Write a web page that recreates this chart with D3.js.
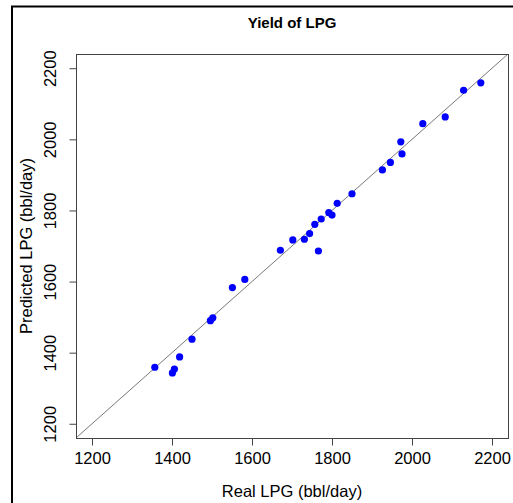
<!DOCTYPE html>
<html>
<head>
<meta charset="utf-8">
<script src="https://cdn.jsdelivr.net/npm/d3@7"></script>
<style>
  body { margin: 0; background: #fff; }
  text { font-family: "Liberation Sans", Arial, sans-serif; fill: #000; }
</style>
</head>
<body>
<div id="chart"></div>
<script>
// Real vs predicted LPG yield (bbl/day).
var realLPG = [1357, 1401, 1406, 1419, 1450, 1496, 1502, 1551, 1582, 1671,
  1702, 1731, 1744, 1766, 1757, 1773, 1792, 1800, 1813, 1850,
  1926, 1946, 1972, 1975, 2027, 2083, 2129, 2172];
var predictedLPG = [1359, 1343, 1354, 1388, 1438, 1490, 1498, 1583, 1606, 1688,
  1717, 1719, 1735, 1686, 1761, 1776, 1794, 1787, 1820, 1847,
  1914, 1935, 1993, 1959, 2044, 2063, 2138, 2159];
var axisTicks = [1200, 1400, 1600, 1800, 2000, 2200];
var axisLimits = [1160, 2240];

var width = 513, height = 503;
var margin = { top: 54, right: 5, bottom: 65, left: 76 };
var plotW = 432, plotH = 384;

var svg = d3.select('#chart').append('svg')
  .attr('width', width)
  .attr('height', height);

// Outer frame from the screenshot.
svg.append('path')
  .attr('d', 'M12,' + height + 'V6.5H' + width)
  .attr('fill', 'none')
  .attr('stroke', '#000')
  .attr('stroke-width', 2);

var x = d3.scaleLinear().domain(axisLimits).range([margin.left, margin.left + plotW]);
var y = d3.scaleLinear().domain(axisLimits).range([margin.top + plotH, margin.top]);

svg.append('clipPath').attr('id', 'clip')
  .append('rect')
  .attr('x', margin.left).attr('y', margin.top)
  .attr('width', plotW).attr('height', plotH);

// y = x reference line.
svg.append('line')
  .attr('clip-path', 'url(#clip)')
  .attr('x1', x(axisLimits[0])).attr('y1', y(axisLimits[0]))
  .attr('x2', x(axisLimits[1])).attr('y2', y(axisLimits[1]))
  .attr('stroke', '#555')
  .attr('stroke-width', 0.8);

svg.append('g')
  .selectAll('circle')
  .data(realLPG)
  .enter().append('circle')
  .attr('cx', function(d) { return x(d); })
  .attr('cy', function(d, i) { return y(predictedLPG[i]); })
  .attr('r', 3.6)
  .attr('fill', '#0000ff');

// Plot box.
svg.append('rect')
  .attr('x', margin.left + 0.5).attr('y', margin.top + 0.5)
  .attr('width', plotW).attr('height', plotH)
  .attr('fill', 'none')
  .attr('stroke', '#444')
  .attr('stroke-width', 1);

var fmt = d3.format('d');
var xAxis = d3.axisBottom(x).tickValues(axisTicks).tickFormat(fmt).tickSize(7).tickPadding(4).tickSizeOuter(0);
var yAxis = d3.axisLeft(y).tickValues(axisTicks).tickFormat(fmt).tickSize(7).tickPadding(4).tickSizeOuter(0);

var gx = svg.append('g')
  .attr('transform', 'translate(0,' + (margin.top + plotH + 0.5) + ')')
  .call(xAxis);
gx.select('.domain').remove();
gx.selectAll('line').attr('stroke', '#444');
gx.selectAll('text').attr('font-size', 16.5).attr('dy', '0.9em');

var gy = svg.append('g')
  .attr('transform', 'translate(' + (margin.left + 0.5) + ',0)')
  .call(yAxis);
gy.select('.domain').remove();
gy.selectAll('line').attr('stroke', '#444');
gy.selectAll('text')
  .attr('font-size', 16.5)
  .attr('x', 0).attr('y', 0).attr('dy', null)
  .attr('text-anchor', 'middle')
  .attr('transform', 'translate(-21,0) rotate(-90)');

// Titles.
svg.append('text')
  .attr('x', margin.left + plotW / 2)
  .attr('y', 28)
  .attr('text-anchor', 'middle')
  .attr('font-size', 15)
  .attr('font-weight', 'bold')
  .text('Yield of LPG');

svg.append('text')
  .attr('x', margin.left + plotW / 2)
  .attr('y', 497)
  .attr('text-anchor', 'middle')
  .attr('font-size', 16.5)
  .text('Real LPG (bbl/day)');

svg.append('text')
  .attr('transform', 'translate(32,' + (margin.top + plotH / 2) + ') rotate(-90)')
  .attr('text-anchor', 'middle')
  .attr('font-size', 16.5)
  .text('Predicted LPG (bbl/day)');
</script>
</body>
</html>
